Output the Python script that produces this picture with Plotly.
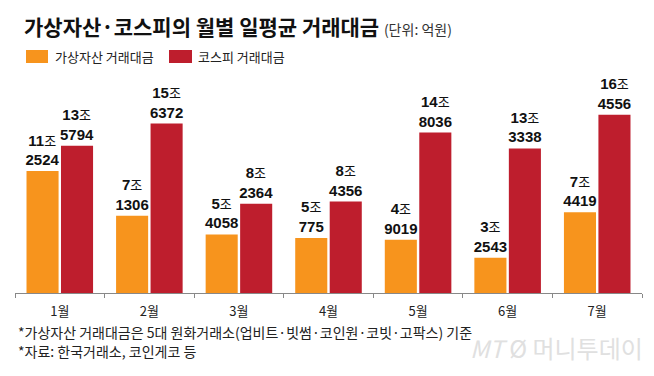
import plotly.graph_objects as go

months = ["1월", "2월", "3월", "4월", "5월", "6월", "7월"]
crypto = [112524, 71306, 54058, 50775, 49019, 32543, 74419]   # 억원
kospi = [135794, 156372, 82364, 84356, 148036, 133338, 164556]  # 억원

series_names = ["가상자산 거래대금", "코스피 거래대금"]
colors = ["#F7941D", "#BE1E2D"]

title_text = "가상자산·코스피의 월별 일평균 거래대금"
unit_text = "(단위: 억원)"
notes = ["*가상자산 거래대금은 5대 원화거래소(업비트·빗썸·코인원·코빗·고팍스) 기준",
         "*자료: 한국거래소, 코인게코 등"]

KR = "Noto Sans CJK KR"
NUM = "Liberation Sans, Noto Sans CJK KR"


def label(v):
    jo, rest = divmod(v, 10000)
    return (f"<b>{jo}</b><span style='font-size:13px;font-family:{KR}'>조</span>"
            f"<br><b>{rest}</b>")


fig = go.Figure()
for name, vals, col in zip(series_names, [crypto, kospi], colors):
    fig.add_trace(go.Bar(
        x=months, y=vals, name=name, marker=dict(color=col, line=dict(width=0)),
        text=[label(v) for v in vals], textposition="outside",
        textfont=dict(family=NUM, size=15, color="#111"),
        constraintext="none", cliponaxis=False, textangle=0,
        hoverinfo="skip", showlegend=False,
    ))

# page has an 8px body margin: figure drawn from (8,8)
OFF = 8
W, H = 654 - OFF, 376 - OFF
ml, mr, mt, mb = 15 - OFF, 12, 80 - OFF, 83
pw, ph = W - ml - mr, H - mt - mb


def px(x):  # reference screen x -> paper
    return (x - OFF - ml) / pw


def py(y):  # reference screen y -> paper
    return (H - mb - (y - OFF)) / ph


shapes = []
annotations = []
legend_items = [(26, 48, 53), (169, 192, 196)]
for (x0, x1, tx), name, col in zip(legend_items, series_names, colors):
    shapes.append(dict(type="rect", xref="paper", yref="paper",
                       x0=px(x0), x1=px(x1), y0=py(63), y1=py(50),
                       fillcolor=col, line=dict(width=0)))
    annotations.append(dict(xref="paper", yref="paper", x=px(tx), y=py(56.5),
                            xanchor="left", yanchor="middle", showarrow=False,
                            text=name, font=dict(family=KR, size=13, color="#222")))

for i, n in enumerate(notes):
    annotations.append(dict(xref="paper", yref="paper", x=px(16), y=py(332 + 19 * i),
                            xanchor="left", yanchor="middle", showarrow=False,
                            text=n, font=dict(family=KR, size=14, color="#222")))

annotations.append(dict(xref="paper", yref="paper", x=px(645), y=py(347),
                        xanchor="right", yanchor="middle", showarrow=False,
                        text="<i>MT</i> Ø 머니투데이",
                        font=dict(family=KR, size=24, color="#e0e0e0")))

fig.update_layout(
    width=W, height=H,
    margin=dict(l=ml, r=mr, t=mt, b=mb),
    paper_bgcolor="white", plot_bgcolor="white",
    barmode="group", bargap=0.23, bargroupgap=0.07,
    title=dict(
        text=f"<b>{title_text}</b> <span style='font-size:14px;color:#333'>{unit_text}</span>",
        font=dict(family=KR, size=21, color="#111"),
        xref="container", yref="container", x=(24 - OFF) / W, xanchor="left",
        y=1 - (28 - OFF) / H, yanchor="middle"),
    xaxis=dict(showline=True, linecolor="#888", linewidth=1,
               ticks="outside", tickson="boundaries", ticklen=4, tickcolor="#888",
               tickfont=dict(family=KR, size=13, color="#222"),
               ticklabelstandoff=6, showgrid=False, fixedrange=True),
    yaxis=dict(visible=False, range=[0, 196500], showgrid=False, fixedrange=True),
    shapes=shapes, annotations=annotations,
    font=dict(family=KR),
)

fig.write_html("out.html")
